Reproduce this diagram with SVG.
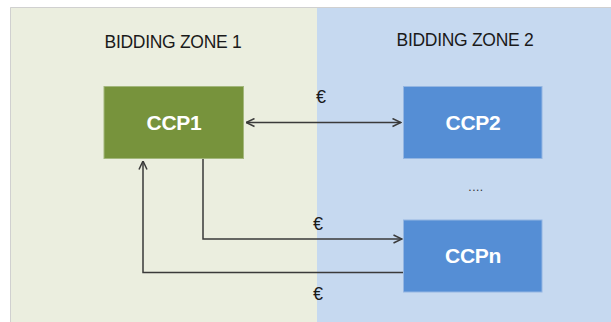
<svg xmlns="http://www.w3.org/2000/svg" width="611" height="322" viewBox="0 0 611 322">
<style>
.title{font-family:"Liberation Sans",Arial,sans-serif;font-size:17.5px;fill:#1a1a1a;letter-spacing:-0.3px}
.lbl{font-family:"Liberation Sans",Arial,sans-serif;font-size:21px;font-weight:bold;fill:#ffffff;letter-spacing:-0.3px}
.eur{font-family:"Liberation Sans",Arial,sans-serif;font-size:18px;fill:#1a1a1a}
.conn{fill:none;stroke:#3a3a3a;stroke-width:1.5}
</style>
<defs>
<marker id="arr" viewBox="0 0 10 10" refX="9.5" refY="5" markerWidth="10" markerHeight="10" markerUnits="userSpaceOnUse" orient="auto-start-reverse">
<path d="M1,1 L9.5,5 L1,9" fill="none" stroke="#3a3a3a" stroke-width="1.5"/>
</marker>
</defs>
<rect x="0" y="0" width="611" height="322" fill="#ffffff"/>
<rect x="10" y="7" width="307" height="315" fill="#ebeedf"/>
<rect x="317" y="7" width="294" height="315" fill="#c6d9f0"/>
<path d="M10.5,322 V7.5 H611" fill="none" stroke="#d0d0d0" stroke-width="1"/>
<text class="title" x="173" y="48" text-anchor="middle">BIDDING ZONE 1</text>
<text class="title" x="465" y="46" text-anchor="middle">BIDDING ZONE 2</text>
<g id="ccp1">
<rect x="104" y="86.5" width="139.5" height="72" fill="#77933c" stroke="#a3b77c" stroke-width="1"/>
<text class="lbl" x="174" y="130" text-anchor="middle">CCP1</text>
</g>
<g id="ccp2">
<rect x="403.5" y="86.5" width="138.5" height="72" fill="#558ed5" stroke="#94b6e2" stroke-width="1"/>
<text class="lbl" x="473" y="130" text-anchor="middle">CCP2</text>
</g>
<g id="ccpn">
<rect x="403.5" y="220" width="138.5" height="72" fill="#558ed5" stroke="#94b6e2" stroke-width="1"/>
<text class="lbl" x="473" y="263" text-anchor="middle">CCPn</text>
</g>
<g id="ellipsis">
<text x="476" y="191" text-anchor="middle" style="font-family:'Liberation Sans',Arial,sans-serif;font-size:12px;fill:#333;letter-spacing:0.5px">....</text>
</g>
<g id="connectors">
<path class="conn" d="M246,122.5 H401" marker-start="url(#arr)" marker-end="url(#arr)"/>
<path class="conn" d="M203,159 V239 H402" marker-end="url(#arr)"/>
<path class="conn" d="M403,272.5 H143 V161" marker-end="url(#arr)"/>
<text class="eur" x="321" y="103" text-anchor="middle">€</text>
<text class="eur" x="318" y="230" text-anchor="middle">€</text>
<text class="eur" x="318" y="300" text-anchor="middle">€</text>
</g>
</svg>
